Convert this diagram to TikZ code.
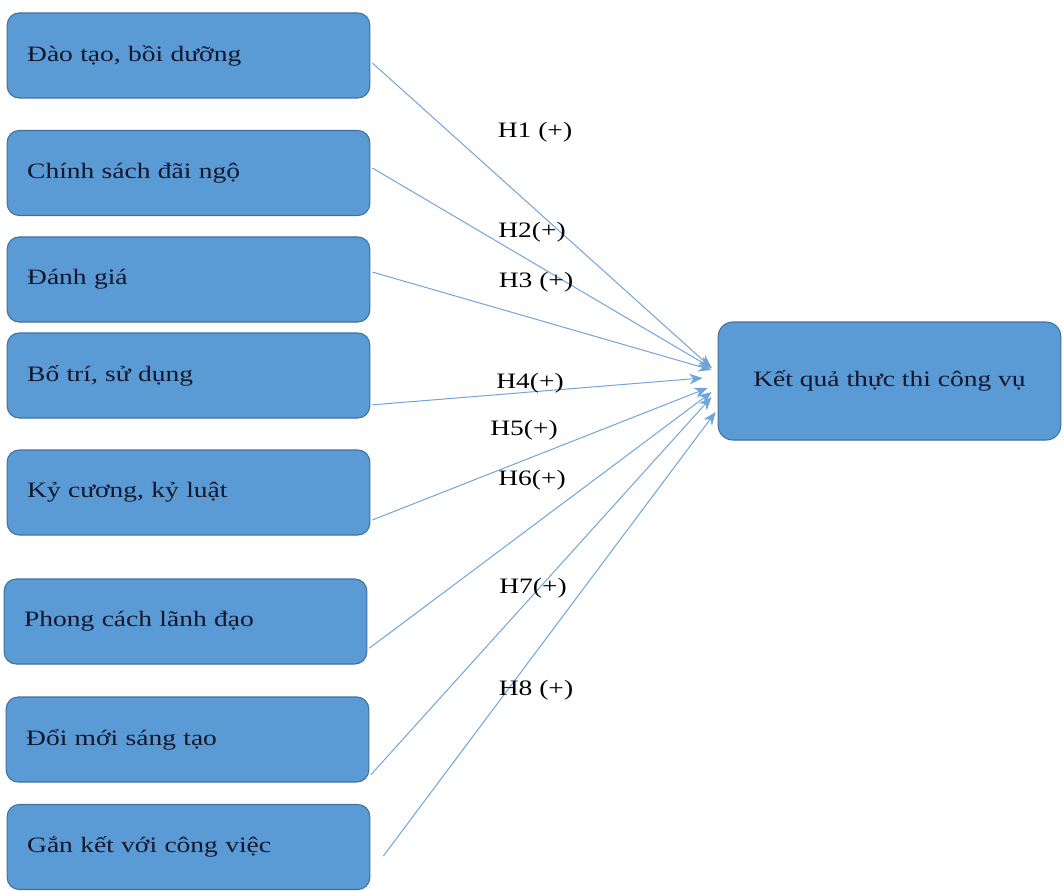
\documentclass[tikz,border=0pt]{standalone}
\usepackage{fontspec}
\setmainfont{Liberation Serif}[FakeStretch=1.25]
\usepackage{tikz}
\usetikzlibrary{arrows.meta}
\definecolor{boxblue}{HTML}{5B9BD5}
\definecolor{boxline}{HTML}{41719C}
\definecolor{linkblue}{HTML}{6FA5DA}
\definecolor{ink}{HTML}{14162B}

\tikzset{
  factor/.style={draw=boxline, fill=boxblue, rounded corners=9pt, line width=0.8pt,
    minimum height=63.75pt, text width=242pt, inner xsep=15pt, inner ysep=0pt,
    align=left, text=ink, font=\fontsize{16.5}{19}\selectfont},
  outcome/.style={draw=boxline, fill=boxblue, rounded corners=11pt, line width=0.8pt,
    minimum width=257pt, minimum height=88.5pt, align=center, text=ink,
    font=\fontsize{16.5}{19}\selectfont},
  hyp/.style={inner sep=1pt, text=black, font=\fontsize{16.5}{19}\selectfont},
  link/.style={draw=linkblue, line width=0.75pt, -{Stealth[length=10pt,width=8pt]}}
}

\begin{document}
\begin{tikzpicture}[x=0.75pt,y=-0.75pt]
      \useasboundingbox (0,0) rectangle (1063,891);
      \node (f1) at (188.5,55.5)  [factor] {Đào tạo, bồi dưỡng};
      \node (f2) at (188.5,173)   [factor] {Chính sách đãi ngộ};
      \node (f3) at (188.5,279.5) [factor] {Đánh giá};
      \node (f4) at (188.5,375.5) [factor] {Bố trí, sử dụng};
      \node (f5) at (188.5,492.5) [factor] {Kỷ cương, kỷ luật};
      \node (f6) at (185.5,621.5) [factor] {Phong cách lãnh đạo};
      \node (f7) at (187.5,739.5) [factor] {Đổi mới sáng tạo};
      \node (f8) at (188.5,847)   [factor] {Gắn kết với công việc};
      \node (kq) at (889.5,381)   [outcome] {Kết quả thực thi công vụ};
      \foreach \i/\sx/\sy/\ex/\ey in {1/1.5pt/-5.6pt/-4.5pt/9.75pt,
                                      2/1.5pt/3.75pt/-4.5pt/9.75pt,
                                      3/1.5pt/5.6pt/-4.5pt/8.25pt,
                                      4/1.5pt/-22pt/-11.25pt/2.25pt,
                                      5/1.5pt/-20.6pt/-7.5pt/-5.25pt,
                                      6/1.5pt/-20pt/-4.5pt/-8.25pt,
                                      7/1pt/-26.6pt/-4.5pt/-12pt,
                                      8/9.75pt/-6.75pt/-1.5pt/-23.25pt}
               {
                 \draw[link] ([xshift=\sx,yshift=\sy]f\i.east) -- ([xshift=\ex,yshift=\ey]kq.west);
               }
               \node (h1) at (535,132) [hyp] {H1 (+)};
               \node (h2) at (532,232) [hyp] {H2(+)};
               \node (h3) at (536,282) [hyp] {H3 (+)};
               \node (h4) at (530,383) [hyp] {H4(+)};
               \node (h5) at (524,430) [hyp] {H5(+)};
               \node (h6) at (532,480) [hyp] {H6(+)};
               \node (h7) at (533,588) [hyp] {H7(+)};
               \node (h8) at (536,690) [hyp] {H8 (+)};
    \end{tikzpicture}
\end{document}
